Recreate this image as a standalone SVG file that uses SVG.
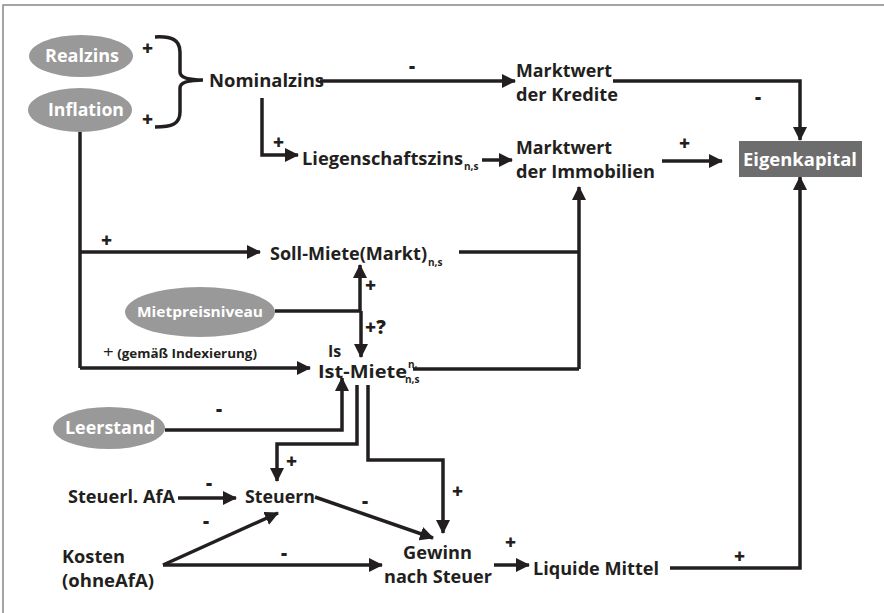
<svg xmlns="http://www.w3.org/2000/svg" width="884" height="613" viewBox="0 0 884 613">
<style>
.t{font-family:"Open Sans","Liberation Sans",sans-serif;font-weight:700;fill:#231f20;font-size:18px}
.w{font-family:"Open Sans","Liberation Sans",sans-serif;font-weight:700;fill:#fff;font-size:17px}
.s{font-family:"Open Sans","Liberation Sans",sans-serif;font-weight:700;fill:#231f20;font-size:10px}
.g{font-family:"Open Sans","Liberation Sans",sans-serif;font-weight:800;fill:#231f20;font-size:19px}
.c{fill:none;stroke:#231f20;stroke-width:3.5}
.a{fill:none;stroke:#231f20;stroke-width:3.5;marker-end:url(#ah)}
.ell{fill:#999}
</style>
<defs>
<marker id="ah" markerUnits="userSpaceOnUse" markerWidth="14" markerHeight="14" refX="13" refY="7" orient="auto">
<path d="M0,0 L14,7 L0,14 z" fill="#231f20"/>
</marker>
</defs>
<rect x="0" y="0" width="884" height="613" fill="#fff"/>
<path d="M3,613 L3,5 L884,5" fill="none" stroke="#888" stroke-width="1.5"/>

<g id="connectors">
<path class="c" d="M155,37 C172,36 180,40 180,52 L180,72 C180,78 190,80 203,80 C190,80 180,82 180,88 L180,112 C180,124 172,127 155,127"/>
<path class="a" d="M320,81 L515,81"/>
<path class="a" d="M613,81 L800,81 L800,140"/>
<path class="a" d="M262,98 L262,155 L298,155"/>
<path class="a" d="M482,160 L512,160"/>
<path class="a" d="M662,161 L722,161"/>
<path class="a" d="M670,568 L800,568 L800,177"/>
<path class="c" d="M80,132 L80,368"/>
<path class="a" d="M80,252 L260,252"/>
<path class="a" d="M80,368 L310,368"/>
<path class="c" d="M459,252 L579,252"/>
<path class="a" d="M579,369 L579,187"/>
<path class="c" d="M413,369 L579,369"/>
<path class="c" d="M275,311 L360,311"/>
<path class="a" d="M360,311 L360,265"/>
<path class="a" d="M361,311 L361,357"/>
<path class="a" d="M165,430 L342,430 L342,378"/>
<path class="a" d="M357,385 L357,444 L277,444 L277,481"/>
<path class="a" d="M368,385 L368,460 L443,460 L443,533"/>
<path class="a" d="M178,498 L236,498"/>
<path class="a" d="M163,565 L278,513"/>
<path class="a" d="M163,565 L382,565"/>
<path class="a" d="M315,497 L433,538"/>
<path class="a" d="M494,565 L529,565"/>
</g>

<g id="signs">
<text class="g" x="142" y="55">+</text>
<text class="g" x="142" y="126">+</text>
<text class="g" x="409" y="73">-</text>
<text class="g" x="755" y="104">-</text>
<text class="g" x="273" y="149">+</text>
<text class="g" x="679" y="150">+</text>
<text class="g" x="101" y="247">+</text>
<text class="g" x="365" y="292">+</text>
<text class="g" x="365" y="334">+?</text>
<text class="g" x="216" y="416">-</text>
<text class="g" x="286" y="468">+</text>
<text class="g" x="452" y="498">+</text>
<text class="g" x="206" y="490">-</text>
<text class="g" x="203" y="528">-</text>
<text class="g" x="281" y="560">-</text>
<text class="g" x="362" y="508">-</text>
<text class="g" x="505" y="549">+</text>
<text class="g" x="734" y="563">+</text>
</g>

<g id="realzins"><ellipse class="ell" cx="81" cy="56" rx="52" ry="21"/><text class="w" x="45" y="62" textLength="74" lengthAdjust="spacingAndGlyphs">Realzins</text></g>
<g id="inflation"><ellipse class="ell" cx="80" cy="110" rx="52" ry="22"/><text class="w" x="48" y="116" textLength="76" lengthAdjust="spacingAndGlyphs">Inflation</text></g>
<g id="nominalzins"><text class="t" x="209" y="87" textLength="115" lengthAdjust="spacingAndGlyphs">Nominalzins</text></g>
<g id="mw-kredite"><text class="t" x="516" y="77" textLength="96" lengthAdjust="spacingAndGlyphs">Marktwert</text><text class="t" x="516" y="101" textLength="102" lengthAdjust="spacingAndGlyphs">der Kredite</text></g>
<g id="liegenschaftszins"><text class="t" x="302" y="165" textLength="161" lengthAdjust="spacingAndGlyphs">Liegenschaftszins</text><text class="s" x="464" y="170">n,s</text></g>
<g id="mw-immobilien"><text class="t" x="516" y="154" textLength="96" lengthAdjust="spacingAndGlyphs">Marktwert</text><text class="t" x="516" y="178" textLength="139" lengthAdjust="spacingAndGlyphs">der Immobilien</text></g>
<g id="eigenkapital"><rect x="739" y="141" width="123" height="36" fill="#6d6d6d"/><text class="w" x="743" y="166" textLength="114" lengthAdjust="spacingAndGlyphs">Eigenkapital</text></g>
<g id="soll-miete"><text class="t" x="270" y="260" textLength="157" lengthAdjust="spacingAndGlyphs">Soll-Miete(Markt)</text><text class="s" x="428" y="266">n,s</text></g>
<g id="mietpreisniveau"><ellipse class="ell" cx="200" cy="312" rx="75" ry="25"/><text class="w" x="137" y="317" style="font-size:14px" textLength="126" lengthAdjust="spacingAndGlyphs">Mietpreisniveau</text></g>
<g id="indexierung-label"><text class="t" x="103" y="358" style="font-size:11.5px" textLength="154" lengthAdjust="spacingAndGlyphs"><tspan style="font-size:16px;font-weight:400">+</tspan> (gemäß Indexierung)</text></g>
<g id="ist-miete"><text class="t" x="328" y="357" style="font-size:16px">Is</text><text class="t" x="318" y="378" textLength="89" lengthAdjust="spacingAndGlyphs">Ist-Miete</text><text class="s" x="408" y="368">n,</text><text class="s" x="405" y="383">n,s</text></g>
<g id="leerstand"><ellipse class="ell" cx="109" cy="428" rx="56" ry="21"/><text class="w" x="65" y="434" textLength="90" lengthAdjust="spacingAndGlyphs">Leerstand</text></g>
<g id="steuerl-afa"><text class="t" x="68" y="503" textLength="107" lengthAdjust="spacingAndGlyphs">Steuerl. AfA</text></g>
<g id="steuern"><text class="t" x="245" y="503" textLength="70" lengthAdjust="spacingAndGlyphs">Steuern</text></g>
<g id="kosten"><text class="t" x="62" y="563" textLength="63" lengthAdjust="spacingAndGlyphs">Kosten</text><text class="t" x="62" y="587" textLength="92" lengthAdjust="spacingAndGlyphs">(ohneAfA)</text></g>
<g id="gewinn"><text class="t" x="403" y="559" textLength="69" lengthAdjust="spacingAndGlyphs">Gewinn</text><text class="t" x="384" y="583" textLength="108" lengthAdjust="spacingAndGlyphs">nach Steuer</text></g>
<g id="liquide-mittel"><text class="t" x="533" y="575" textLength="126" lengthAdjust="spacingAndGlyphs">Liquide Mittel</text></g>
</svg>
